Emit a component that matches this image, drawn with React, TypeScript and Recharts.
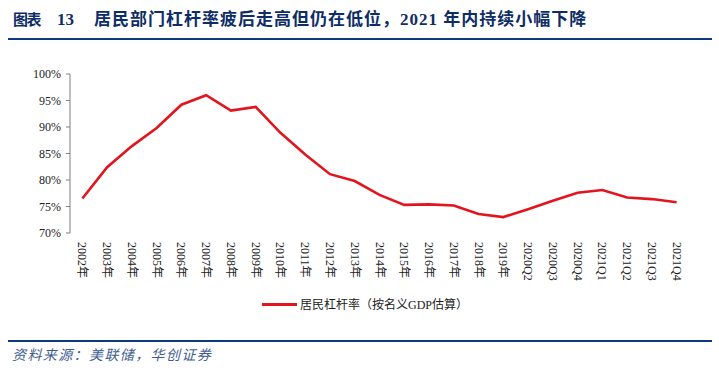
import React from 'react';
import { LineChart, Line, XAxis, YAxis, Legend } from 'recharts';

const categories = [
  '2002年', '2003年', '2004年', '2005年', '2006年', '2007年', '2008年', '2009年', '2010年',
  '2011年', '2012年', '2013年', '2014年', '2015年', '2016年', '2017年', '2018年', '2019年',
  '2020Q2', '2020Q3', '2020Q4', '2021Q1', '2021Q2', '2021Q3', '2021Q4',
];

const leverage = [
  76.5, 82.4, 86.4, 89.8, 94.2, 96.0, 93.1, 93.8, 88.9,
  84.8, 81.1, 79.8, 77.2, 75.3, 75.4, 75.2, 73.6, 73.0,
  74.5, 76.1, 77.6, 78.1, 76.7, 76.4, 75.8,
];

const yTicks = [70, 75, 80, 85, 90, 95, 100];

const seriesName = '居民杠杆率（按名义GDP估算）';
const titleLabel = '图表';
const titleNumber = '13';
const titleText = '居民部门杠杆率疲后走高但仍在低位，2021 年内持续小幅下降';
const sourceText = '资料来源：美联储，华创证券';

const data = categories.map((name, i) => ({ name, value: leverage[i] }));
const edgeTicks = categories.map((_, i) => i).concat(categories.length);

const FONT = '"Liberation Serif", "Times New Roman", "Noto Sans CJK SC", serif';
const RED = '#E3141E';
const AXIS = '#7f7f7f';
const NAVY = '#0B3B7C';

const RotatedTick = (props: any) => {
  const { x, y, payload } = props;
  return (
    <text
      x={x}
      y={y}
      transform={`rotate(90, ${x}, ${y})`}
      textAnchor="start"
      dominantBaseline="central"
      fontSize={12}
      fontFamily={FONT}
      fill="#222"
    >
      {payload.value}
    </text>
  );
};

const LegendContent = () => (
  <div style={{ display: 'flex', alignItems: 'center', fontFamily: FONT, fontSize: 12, color: '#222', whiteSpace: 'nowrap' }}>
    <span style={{ display: 'inline-block', width: 35, height: 3, background: RED, marginRight: 3 }} />
    <span>{seriesName}</span>
  </div>
);

export default function App() {
  const titleStyle: React.CSSProperties = {
    position: 'absolute', top: 9, fontWeight: 'bold', color: '#0E2D66',
    whiteSpace: 'nowrap', lineHeight: '22px',
  };
  return (
    <div style={{ position: 'absolute', left: 0, top: 0, width: 719, height: 370, background: '#fff', fontFamily: FONT }}>
      <div style={{ ...titleStyle, left: 13, fontSize: 15, letterSpacing: -1.5 }}>{titleLabel}</div>
      <div style={{ ...titleStyle, left: 57, fontSize: 17 }}>{titleNumber}</div>
      <div style={{ ...titleStyle, left: 94, fontSize: 17, letterSpacing: 1 }}>{titleText}</div>
      <div style={{ position: 'absolute', left: 8, top: 38, width: 704, height: 2, background: NAVY }} />

      <div style={{ position: 'absolute', left: 0, top: 0 }}>
        <LineChart width={719} height={370} data={data} margin={{ top: 74, right: 30, left: 10, bottom: 80 }}>
          <XAxis
            xAxisId="edge"
            type="number"
            domain={[0, categories.length]}
            ticks={edgeTicks}
            allowDataOverflow
            tick={false}
            height={0}
            tickSize={4}
            axisLine={{ stroke: AXIS }}
            tickLine={{ stroke: AXIS }}
          />
          <XAxis
            xAxisId="cat"
            dataKey="name"
            scale="band"
            interval={0}
            axisLine={false}
            tickLine={false}
            tickMargin={0}
            tickSize={9}
            height={57}
            tick={<RotatedTick />}
          />
          <YAxis
            domain={[70, 100]}
            ticks={yTicks}
            width={60}
            tickSize={4}
            tickMargin={5}
            axisLine={{ stroke: AXIS }}
            tickLine={{ stroke: AXIS }}
            tickFormatter={(v) => `${v}%`}
            tick={{ fill: '#222', fontSize: 12, fontFamily: FONT }}
          />
          <Legend
            layout="horizontal"
            verticalAlign="middle"
            align="center"
            wrapperStyle={{ left: 262, top: 295, width: 'auto' }}
            content={<LegendContent />}
          />
          <Line
            xAxisId="cat"
            type="linear"
            dataKey="value"
            name={seriesName}
            stroke={RED}
            strokeWidth={2.6}
            dot={false}
            isAnimationActive={false}
          />
        </LineChart>
      </div>

      <div style={{ position: 'absolute', left: 8, top: 340, width: 704, height: 2, background: NAVY }} />
      <div
        style={{
          position: 'absolute', left: 12, top: 346, fontSize: 14, fontStyle: 'italic', letterSpacing: 1.4,
          color: '#3F5E8F', whiteSpace: 'nowrap', lineHeight: '20px',
        }}
      >
        {sourceText}
      </div>
    </div>
  );
}
